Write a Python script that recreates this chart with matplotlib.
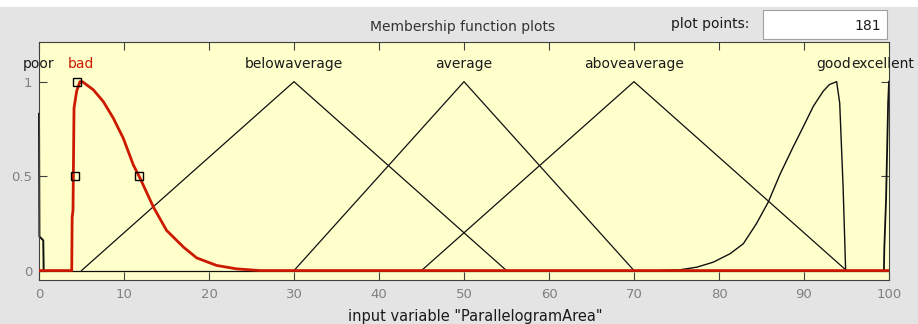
import matplotlib.pyplot as plt
from matplotlib.patches import Rectangle

# membership functions (x in 0..100, y in 0..1)
tri_names = ['belowaverage', 'average', 'aboveaverage']
tri_params = [[5, 30, 55], [30, 50, 70], [45, 70, 95]]

poor_x = [0, 0.05, 0.5, 0.55]
poor_y = [0.83, 0.18, 0.16, 0]

bad_x = [0, 3.85, 3.9, 4.0, 4.04, 4.12, 4.43, 4.82, 5.1, 6.39, 7.56, 8.74, 9.92,
         11.1, 11.9, 13.45, 15.0, 17.0, 18.55, 20.9, 23.25, 26.0, 100]
bad_y = [0, 0, 0.28, 0.32, 0.5, 0.86, 0.95, 1.0, 1.0, 0.957, 0.895, 0.807, 0.70,
         0.559, 0.488, 0.337, 0.213, 0.124, 0.067, 0.027, 0.009, 0, 0]

good_x = [73.0, 75.4, 77.4, 79.3, 81.3, 82.86, 84.4, 85.8, 87.18, 88.74, 89.9,
          91.1, 92.27, 93.0, 93.84, 94.2, 94.6, 94.9]
good_y = [0, 0.004, 0.018, 0.044, 0.089, 0.142, 0.248, 0.363, 0.51, 0.656, 0.76,
          0.87, 0.95, 0.985, 1.0, 0.887, 0.443, 0]

excellent_x = [99.4, 99.45, 99.65, 99.9, 100]
excellent_y = [0, 0.12, 0.37, 0.89, 1.0]

# label positions along x
label_names = ['poor', 'bad', 'belowaverage', 'average', 'aboveaverage', 'good', 'excellent']
label_x = [0, 4.9, 30, 50, 70, 93.5, 99.2]
selected = 'bad'

# control points of the selected function
handle_x = [4.5, 4.24, 11.76]
handle_y = [1.0, 0.5, 0.5]

xticks = [0, 10, 20, 30, 40, 50, 60, 70, 80, 90, 100]
yticks = [0, 0.5, 1]
n_points = 181

W, H = 918, 324
fig = plt.figure(figsize=(W / 100, H / 100), dpi=100, facecolor='#e4e4e4')
fig.patches.append(Rectangle((0, 1 - 7 / H), 1, 7 / H, transform=fig.transFigure,
                             facecolor='white', edgecolor='none'))

ax = fig.add_axes([39 / W, 1 - 280 / H, 850 / W, 238 / H])
ax.set_facecolor('#ffffcc')

red = '#cc1a00'
black = '#101010'

# black functions
ax.plot([0, 100], [0, 0], color=black, lw=0.9)
ax.plot(poor_x, poor_y, color=black, lw=1.4, clip_on=False)
for (a, b, c) in tri_params:
    ax.plot([a, b, c], [0, 1, 0], color=black, lw=0.9)
ax.plot(good_x, good_y, color=black, lw=1.0)
ax.plot(excellent_x, excellent_y, color=black, lw=1.3, clip_on=False)

# selected function on top
ax.plot(bad_x, bad_y, color=red, lw=2, zorder=5)
ax.plot(handle_x, handle_y, ls='none', marker='s', ms=6, mfc='none', mec='black',
        mew=1, zorder=6)

for name, xpos in zip(label_names, label_x):
    ax.text(xpos, 1.072, name, ha='center', va='baseline', fontsize=10,
            color=red if name == selected else '#1a1a1a', clip_on=False)

ax.set_xlim(0, 100)
ax.set_ylim(-0.05, 1.21)
ax.set_xticks(xticks)
ax.set_yticks(yticks)
ax.set_yticklabels(['0', '0.5', '1'])
ax.tick_params(direction='in', length=5.5, width=0.8, color='#404040',
               labelcolor='#808080', labelsize=9.5, top=True, right=True)
ax.tick_params(axis='x', pad=6)
ax.tick_params(axis='y', pad=5)
for s in ax.spines.values():
    s.set_color('#404040')
    s.set_linewidth(0.8)

fig.text(475 / W, 1 - 321.5 / H, 'input variable "ParallelogramArea"', ha='center',
         va='baseline', fontsize=10.5, color='#1a1a1a')
fig.text(463 / W, 1 - 30.7 / H, 'Membership function plots', ha='center',
         va='baseline', fontsize=10, color='#333333')

# plot points box
fig.text(749 / W, 1 - 27.7 / H, 'plot points:', ha='right', va='baseline',
         fontsize=10, color='#1a1a1a')
fig.patches.append(Rectangle((763 / W, 1 - 39 / H), 124 / W, 29 / H,
                             transform=fig.transFigure, facecolor='white',
                             edgecolor='#a0a0a0', lw=0.8))
fig.text(881 / W, 1 - 30 / H, str(n_points), ha='right', va='baseline',
         fontsize=10, color='#1a1a1a')

fig.savefig('out.png', dpi=100, facecolor=fig.get_facecolor())
